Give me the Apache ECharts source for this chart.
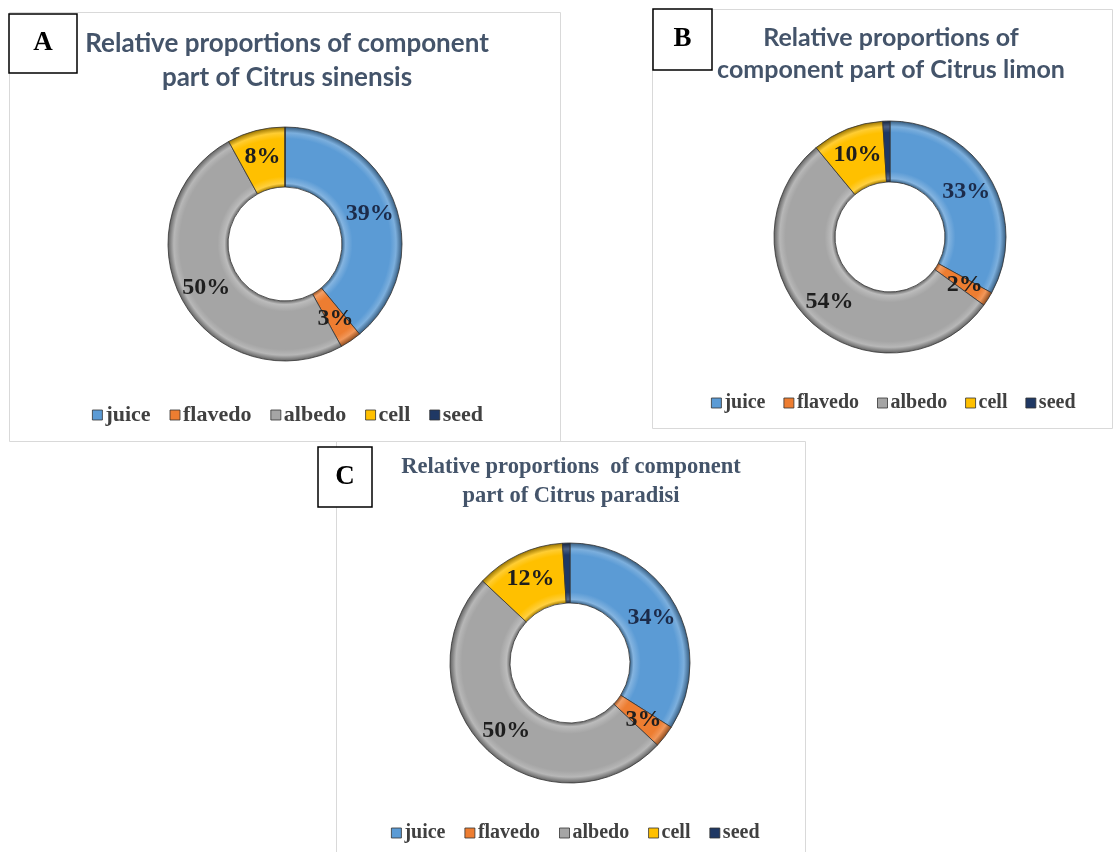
<!DOCTYPE html>
<html>
<head>
<meta charset="utf-8">
<script src="https://cdn.jsdelivr.net/npm/echarts@6/dist/echarts.min.js"></script>
<style>
  html, body { margin: 0; padding: 0; background: #fff; }
  #main { width: 1114px; height: 852px; }
</style>
</head>
<body>
<div id="main"></div>
<script>
// component parts (legend order)
let parts = ['juice', 'flavedo', 'albedo', 'cell', 'seed']
let partColors = ['#5b9bd5', '#ed7d31', '#a5a5a5', '#ffc000', '#1f3864']

// relative proportions, %
let sinensis = [39, 3, 50, 8, 0]
let limon = [33, 2, 54, 10, 1]
let paradisi = [34, 3, 50, 12, 1]

let titleA = 'Relative proportions of component\npart of Citrus sinensis'
let titleB = 'Relative proportions of\ncomponent part of Citrus limon'
let titleC = 'Relative proportions  of component\npart of Citrus paradisi'

let chart = echarts.init(document.querySelector('#main'))

// lighten (k>0) or darken (k<0) a hex colour
function shade(hex, k) {
    let n = parseInt(hex.slice(1), 16)
    let rgb = [(n >> 16) & 255, (n >> 8) & 255, n & 255].map(function (c) {
        let v = k > 0 ? c + (255 - c) * k : c * (1 + k)
        return Math.round(v)
    })
    return 'rgb(' + rgb.join(',') + ')'
}

// radial shading to fake the bevelled ring of the original
function bevel(color, center, radius) {
    let f = radius[0] / radius[1]
    return {
        type: 'radial', x: center[0], y: center[1], r: radius[1], global: true,
        colorStops: [
            { offset: f, color: shade(color, -0.35) },
            { offset: f + 0.03, color: shade(color, 0.25) },
            { offset: f + 0.09, color: color },
            { offset: 0.9, color: color },
            { offset: 0.95, color: shade(color, 0.2) },
            { offset: 1, color: shade(color, -0.4) }
        ]
    }
}

function donut(values, center, radius) {
    let data = []
    for (let i = 0; i < parts.length; i++) {
        data.push({
            name: parts[i],
            value: values[i],
            itemStyle: { color: bevel(partColors[i], center, radius) },
            label: { show: values[i] > 0, color: i === 0 ? '#1c2b4a' : '#1e1e1e' }
        })
    }
    return {
        type: 'pie',
        startAngle: 90,
        center: center,
        radius: radius,
        avoidLabelOverlap: false,
        itemStyle: { borderColor: '#333', borderWidth: 0.8 },
        label: {
            show: true,
            position: 'inside',
            formatter: function (p) { return p.value + '%' },
            fontFamily: 'Liberation Serif',
            fontWeight: 'bold',
            fontSize: 24
        },
        labelLine: { show: false },
        emphasis: { disabled: true },
        data: data
    }
}

function legend(left, top, size, gap) {
    return {
        left: left,
        top: top,
        padding: 0,
        itemGap: gap,
        itemWidth: 10,
        itemHeight: 10,
        icon: 'rect',
        data: parts.map(function (p, i) {
            return { name: p, itemStyle: { color: partColors[i], borderColor: '#333', borderWidth: 0.8 } }
        }),
        textStyle: {
            fontFamily: 'Liberation Serif',
            fontWeight: 'bold',
            fontSize: size,
            color: '#404040',
            padding: [0, 0, 0, -2]
        }
    }
}

function panel(x, y, w, h) {
    return {
        type: 'rect',
        shape: { x: x, y: y, width: w, height: h },
        style: { fill: '#fff', stroke: '#d9d9d9', lineWidth: 1 },
        z: -10
    }
}

function tag(letter, x, y, w, h) {
    return {
        type: 'group',
        children: [
            {
                type: 'rect',
                shape: { x: x, y: y, width: w, height: h },
                style: { fill: '#fff', stroke: '#000', lineWidth: 1.5 }
            },
            {
                type: 'text',
                x: x + w / 2,
                y: y + h / 2,
                style: {
                    text: letter,
                    align: 'center',
                    verticalAlign: 'middle',
                    fontFamily: 'Liberation Serif',
                    fontWeight: 'bold',
                    fontSize: 27,
                    fill: '#000'
                }
            }
        ]
    }
}

function sansTitle(size, lh) {
    return { fontFamily: 'Lato', fontWeight: 'bold', fontSize: size, lineHeight: lh, color: '#44546a' }
}

let option = {
    backgroundColor: '#fff',
    animation: false,
    title: [
        { text: titleA, left: 287, top: 27, padding: 0, textAlign: 'center', textStyle: sansTitle(26, 34) },
        { text: titleB, left: 891, top: 22, padding: 0, textAlign: 'center', textStyle: sansTitle(25, 32) },
        {
            text: titleC, left: 571, top: 453, padding: 0, textAlign: 'center',
            textStyle: {
                fontFamily: 'Liberation Serif',
                fontWeight: 'bold',
                fontSize: 22.5,
                lineHeight: 29,
                color: '#44546a'
            }
        }
    ],
    legend: [legend(92, 404, 22, 19), legend(711, 393, 20, 18), legend(391, 823, 20, 19)],
    graphic: [
        panel(9.5, 12.5, 551, 429),
        panel(652.5, 9.5, 460, 419),
        panel(336.5, 441.5, 469, 420),
        tag('A', 9, 14, 68, 59),
        tag('B', 653, 9, 59, 61),
        tag('C', 318, 447, 54, 60)
    ],
    series: [
        donut(sinensis, [285, 244], [57, 117]),
        donut(limon, [890, 237], [55, 116]),
        donut(paradisi, [570, 663], [60, 120])
    ]
}

chart.setOption(option)
</script>
</body>
</html>
